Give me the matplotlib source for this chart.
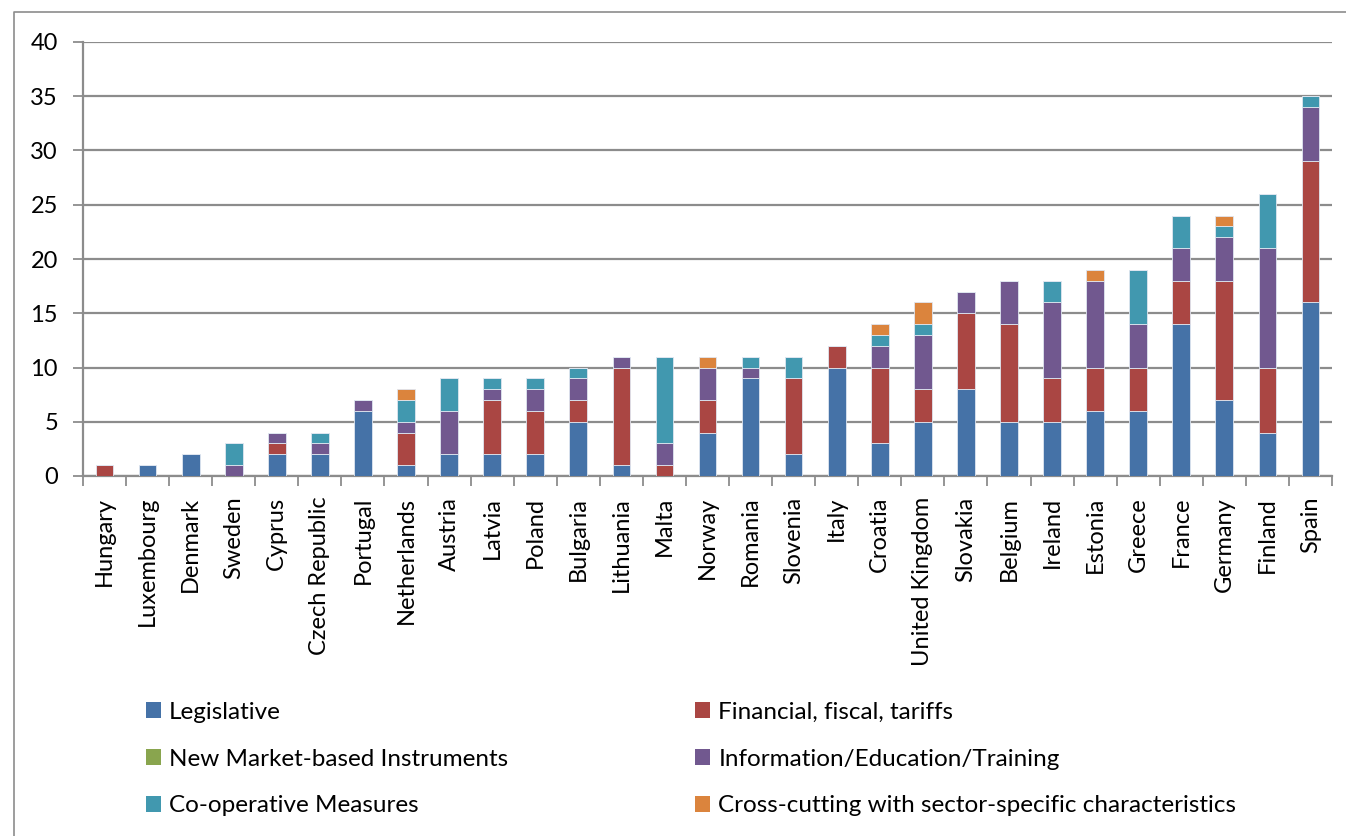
import numpy as np
import matplotlib
matplotlib.use('Agg')
import matplotlib.pyplot as plt
from matplotlib.lines import Line2D
from matplotlib.patches import Patch

countries = ['Hungary', 'Luxembourg', 'Denmark', 'Sweden', 'Cyprus', 'Czech Republic',
             'Portugal', 'Netherlands', 'Austria', 'Latvia', 'Poland', 'Bulgaria',
             'Lithuania', 'Malta', 'Norway', 'Romania', 'Slovenia', 'Italy', 'Croatia',
             'United Kingdom', 'Slovakia', 'Belgium', 'Ireland', 'Estonia', 'Greece',
             'France', 'Germany', 'Finland', 'Spain']

legislative = [0, 1, 2, 0, 2, 2, 6, 1, 2, 2, 2, 5, 1, 0, 4, 9, 2, 10, 3, 5, 8, 5, 5, 6, 6, 14, 7, 4, 16]
financial = [1, 0, 0, 0, 1, 0, 0, 3, 0, 5, 4, 2, 9, 1, 3, 0, 7, 2, 7, 3, 7, 9, 4, 4, 4, 4, 11, 6, 13]
new_market = [0] * 29
information = [0, 0, 0, 1, 1, 1, 1, 1, 4, 1, 2, 2, 1, 2, 3, 1, 0, 0, 2, 5, 2, 4, 7, 8, 4, 3, 4, 11, 5]
cooperative = [0, 0, 0, 2, 0, 1, 0, 2, 3, 1, 1, 1, 0, 8, 0, 1, 2, 0, 1, 1, 0, 0, 2, 0, 5, 3, 1, 5, 1]
cross_cutting = [0, 0, 0, 0, 0, 0, 0, 1, 0, 0, 0, 0, 0, 0, 1, 0, 0, 0, 1, 2, 0, 0, 0, 1, 0, 0, 1, 0, 0]

series_names = ['Legislative', 'Financial, fiscal, tariffs', 'New Market-based Instruments',
                'Information/Education/Training', 'Co-operative Measures',
                'Cross-cutting with sector-specific characteristics']
series = [legislative, financial, new_market, information, cooperative, cross_cutting]
colors = ['#4572A7', '#AA4643', '#89A54E', '#71588F', '#4198AF', '#DB843D']

plt.rcParams['font.family'] = ['Lato', 'DejaVu Sans']
grid_col = '#8c8c8c'

fig = plt.figure(figsize=(13.46, 8.36), dpi=100)
ax = fig.add_axes([83 / 1346, 1 - 476 / 836, (1332 - 83) / 1346, (476 - 42) / 836])

x = np.arange(len(countries))
bottom = np.zeros(len(countries))
for vals, col in zip(series, colors):
    vals = np.array(vals, dtype=float)
    ax.bar(x, vals, 0.41, bottom=bottom, color=col, edgecolor='#dfe6f0',
           linewidth=0.6, zorder=3)
    bottom += vals

ax.set_xlim(-0.5, len(countries) - 0.5)
ax.set_ylim(0, 40)
ax.set_yticks(range(0, 41, 5))
ax.yaxis.grid(True, color=grid_col, linewidth=1.6, zorder=0)
ax.tick_params(axis='y', length=7, width=1.3, color=grid_col, pad=11, labelsize=17)

ax.set_xticks(x)
ax.set_xticklabels(countries, rotation=90, fontsize=17)
ax.set_xticks(np.arange(-0.5, len(countries), 1), minor=True)
ax.tick_params(axis='x', which='major', length=0, pad=15)
ax.tick_params(axis='x', which='minor', length=7, width=1.3, color=grid_col)

for side in ['top', 'right']:
    ax.spines[side].set_visible(False)
for side in ['left', 'bottom']:
    ax.spines[side].set_color(grid_col)
    ax.spines[side].set_linewidth(1.6)

# legend in two columns, row order as in the original
order = [0, 2, 4, 1, 3, 5]
handles = [Patch(facecolor=colors[i], edgecolor='none') for i in order]
labels = [series_names[i] for i in order]
fig.legend(handles, labels, ncol=2, loc='upper left', bbox_to_anchor=(124 / 1346, 1 - 680 / 836),
           frameon=False, fontsize=17.5, handlelength=0.62, handleheight=0.62,
           handletextpad=0.33, columnspacing=7.7, labelspacing=1.06)

# outer chart border (left and top)
fig.add_artist(Line2D([14 / 1346, 14 / 1346, 1], [0, 1 - 12 / 836, 1 - 12 / 836],
                      transform=fig.transFigure, color='#8c8c8c', linewidth=1.2))

fig.savefig('out.png', dpi=100)
